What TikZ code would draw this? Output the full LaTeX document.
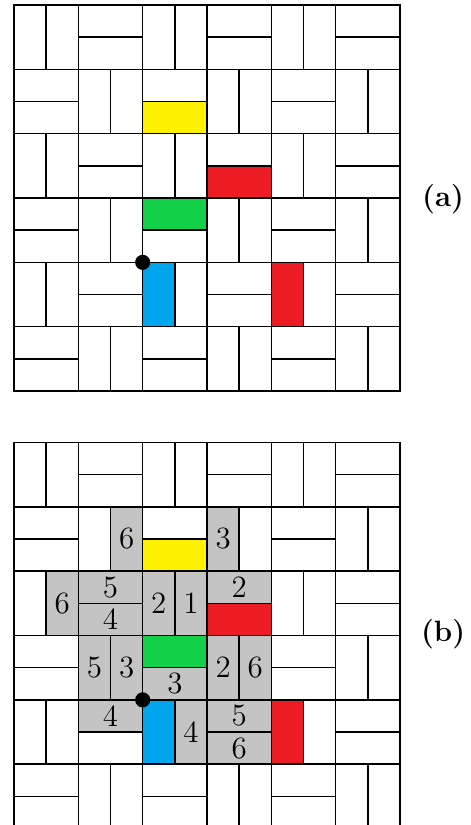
\documentclass[tikz,border=0pt]{standalone}
\usetikzlibrary{calc}
\definecolor{tileyellow}{RGB}{255,242,0}
\definecolor{tilered}{RGB}{237,28,36}
\definecolor{tilegreen}{RGB}{18,208,72}
\definecolor{tileblue}{RGB}{0,166,237}
\definecolor{tilegray}{RGB}{196,196,196}
\tikzset{
  every path/.style={
    line width=0.7pt
  },
  num/.style={
    font=\fontsize{13.7}{16}\selectfont,
    inner sep=0pt
  },
  dot/.style={
    circle,
    fill=black,
    inner sep=0pt,
    minimum size=0.235cm
  },
  tag/.style={
    font=\fontsize{13}{15}\selectfont\bfseries
  }
}

\begin{document}
\begin{tikzpicture}[x=0.5cm, y=-0.5cm]
    \useasboundingbox (-0.435,-0.155) rectangle (14.2,25.49);

    % 番号つきの灰色タイル (b)
    \begin{scope}[shift={(0,13.6)}]
    \foreach \x/\y/\w/\h/\n [count=\k] in {
        3/2/1/2/6, 6/2/1/2/3, 1/4/1/2/6, 2/4/2/1/5, 2/5/2/1/4,
        4/4/1/2/2, 5/4/1/2/1, 6/4/2/1/2, 2/6/1/2/5, 3/6/1/2/3,
        4/7/2/1/3, 6/6/1/2/2, 7/6/1/2/6, 2/8/2/1/4, 5/8/1/2/4,
        6/8/2/1/5, 6/9/2/1/6} {
        \fill[tilegray] (\x,\y) rectangle ++(\w,\h);
        \node[num] (num\k) at (\x+\w/2,\y+\h/2) {\n};
    }
    \end{scope}

    % 色つきタイルと格子
    \foreach \oy/\p in {0/a,13.6/b} {
    \begin{scope}[shift={(0,\oy)}]
        \fill[tileyellow] (4,3) rectangle (6,4);
        \fill[tilered] (6,5) rectangle (8,6);
        \fill[tilegreen] (4,6) rectangle (6,7);
        \fill[tileblue] (4,8) rectangle (5,10);
        \fill[tilered] (8,8) rectangle (9,10);
        \foreach \r in {0,...,5} {
            \foreach \c in {0,...,5} {
                \draw (2*\c,2*\r) rectangle ++(2,2);
                \pgfmathtruncatemacro{\odd}{mod(\r+\c,2)}
                \ifnum\odd=0
                    \draw (2*\c+1,2*\r) -- ++(0,2);
                \else
                    \draw (2*\c,2*\r+1) -- ++(2,0);
                \fi
            }
        }
        \node[dot] (dot-\p) at (4,8) {};
    \end{scope}
    }

    % ラベル
    \node[tag] (lbl-a) at (13.34,6.04) {(a)};
    \node[tag] (lbl-b) at (13.34,19.55) {(b)};
\end{tikzpicture}
\end{document}
